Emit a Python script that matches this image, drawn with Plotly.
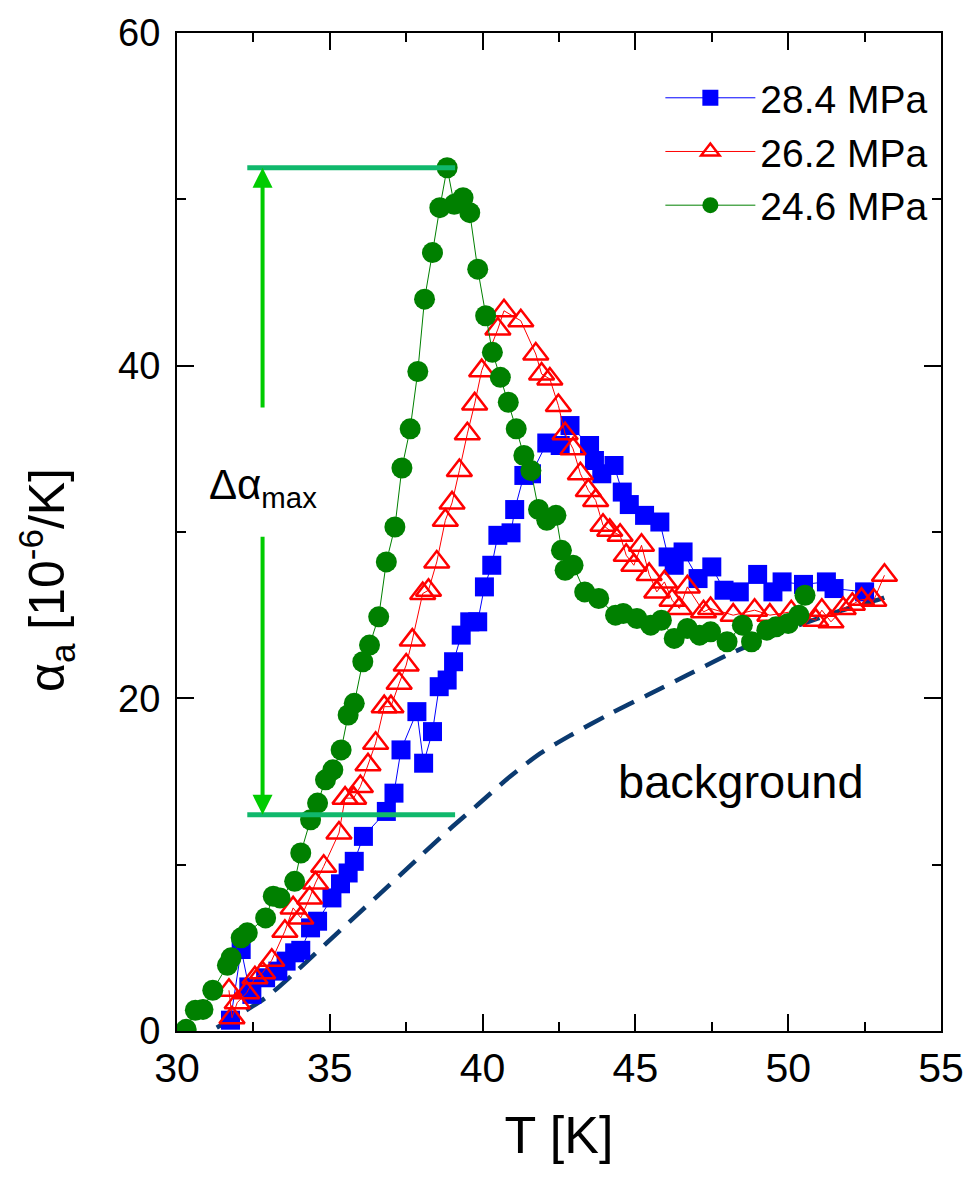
import plotly.graph_objects as go

# ---- data ----
T_284 = [31.75, 32.1, 32.35, 32.45, 32.9, 33.3, 33.57, 33.85, 34.05, 34.37, 34.6, 35.07, 35.35, 35.6,
         35.8, 36.1, 36.85, 37.1, 37.33, 37.85, 38.07, 38.36, 38.58, 38.84, 39.05, 39.3, 39.58, 39.84,
         40.06, 40.3, 40.5, 40.93, 41.05, 41.35, 41.6, 42.1, 42.54, 42.86, 43.5, 43.66, 43.9, 44.3,
         44.57, 44.8, 45.3, 45.8, 46.07, 46.27, 46.56, 47.05, 47.5, 47.9, 48.4, 49.0, 49.5, 49.8,
         50.5, 51.25, 51.5, 52.5]
A_284 = [0.65, 4.9, 2.65, 2.2, 3.2, 3.6, 4.2, 4.7, 4.85, 6.2, 6.6, 8.0, 8.85, 9.5,
         10.2, 11.7, 13.2, 14.3, 16.9, 19.2, 16.1, 18.0, 20.7, 21.1, 22.2, 23.8, 24.6, 24.6,
         26.7, 28.0, 29.8, 29.95, 31.35, 33.4, 33.5, 35.35, 35.2, 36.4, 35.2, 34.3, 33.5, 34.0,
         32.4, 31.65, 31.0, 30.6, 28.5, 28.0, 28.8, 27.2, 27.9, 26.5, 26.4, 27.45, 26.4, 27.0,
         26.85, 27.0, 26.6, 26.4]

T_262 = [31.7, 31.8, 31.97, 32.28, 32.55, 32.8, 33.1, 33.53, 33.8, 34.05, 34.34, 34.53, 34.8, 35.3,
         35.5, 35.78, 36.0, 36.25, 36.5, 36.78, 37.0, 37.27, 37.5, 37.7, 38.04, 38.23, 38.5, 38.78,
         39.0, 39.24, 39.5, 39.74, 39.97, 40.5, 40.7, 41.25, 41.74, 41.93, 42.2, 42.48, 42.7, 42.96,
         43.2, 43.46, 43.7, 43.94, 44.16, 44.5, 44.7, 44.95, 45.2, 45.45, 45.7, 45.95, 46.2, 46.44,
         46.7, 47.23, 47.46, 48.2, 48.9, 49.4, 50.1, 50.9, 51.1, 51.4, 51.8, 52.1, 52.4, 52.8, 53.15]
A_262 = [2.45, 0.8, 1.7, 2.3, 3.2, 3.5, 4.25, 6.0, 7.4, 6.8, 8.0, 8.9, 9.9, 11.9,
         14.0, 14.0, 14.7, 16.0, 17.3, 19.5, 19.5, 20.9, 22.0, 23.5, 26.3, 26.5, 28.2, 30.7,
         31.75, 33.7, 35.9, 37.7, 39.7, 42.2, 43.3, 42.7, 40.7, 39.5, 39.2, 37.6, 35.9, 35.0,
         33.5, 32.5, 31.9, 30.4, 30.1, 29.8, 28.6, 28.0, 29.2, 27.45, 26.4, 27.0, 25.9, 25.4,
         26.7, 25.2, 25.4, 25.0, 25.3, 25.0, 25.2, 24.7, 25.3, 24.6, 25.4, 25.65, 25.95, 25.9, 27.4]

T_246 = [30.3, 30.6, 30.85, 31.17, 31.65, 31.77, 32.1, 32.3, 32.9, 33.15, 33.37, 33.85, 34.05, 34.37,
         34.6, 34.86, 35.1, 35.37, 35.6, 35.8, 36.08, 36.3, 36.6, 36.85, 37.13, 37.36, 37.63, 37.88,
         38.1, 38.36, 38.6, 38.84, 39.07, 39.36, 39.58, 39.84, 40.1, 40.32, 40.58, 40.84, 41.1, 41.35,
         41.58, 41.83, 42.1, 42.4, 42.58, 42.7, 42.96, 43.34, 43.8, 44.35, 44.6, 45.05, 45.5, 45.85,
         46.27, 46.7, 47.1, 47.46, 48.0, 48.5, 48.8, 49.3, 49.6, 50.0, 50.35, 50.55]
A_246 = [0.1, 1.25, 1.3, 2.45, 3.95, 4.4, 5.6, 5.9, 6.8, 8.1, 8.0, 9.0, 10.7, 12.7,
         13.7, 15.1, 15.7, 16.9, 19.0, 19.7, 22.2, 23.2, 24.9, 28.2, 30.3, 33.85, 36.2, 39.65,
         44.0, 46.8, 49.5, 51.9, 49.7, 50.1, 49.2, 45.8, 43.0, 40.8, 39.3, 37.8, 36.2, 34.6,
         33.7, 31.35, 30.7, 31.0, 28.9, 27.7, 28.0, 26.4, 26.0, 25.0, 25.1, 24.8, 24.4, 24.7,
         23.6, 24.2, 23.8, 24.0, 23.4, 24.4, 23.4, 24.1, 24.3, 24.5, 25.0, 26.2]

T_bg = [31.3, 32.9, 33.85, 34.9, 35.9, 36.85, 37.9, 38.9, 39.84, 40.9, 41.9, 42.9, 44.1, 45.4,
        46.7, 48.0, 49.0, 50.35, 51.6, 52.9, 53.2]
A_bg = [0.2, 2.0, 3.5, 5.3, 7.0, 8.6, 10.4, 12.1, 13.6, 15.3, 16.7, 17.8, 19.0, 20.2,
        21.4, 22.6, 23.4, 24.4, 25.2, 25.9, 26.1]

x_ticks = [30, 35, 40, 45, 50, 55]
y_ticks = [0, 20, 40, 60]

# Delta alpha_max construction
delta_top = max(A_246)
delta_bottom = 13.0
delta_x = 32.8
delta_line_x = [32.3, 39.1]
delta_gap = [29.8, 37.4]

FONT = "Liberation Sans, Arial, sans-serif"

fig = go.Figure()

fig.add_trace(go.Scatter(
    x=T_bg, y=A_bg, mode="lines", line=dict(color="#0b3a70", width=4.5, dash="22px,12px",
                                            shape="spline", smoothing=0.8),
    showlegend=False, hoverinfo="skip"))

fig.add_trace(go.Scatter(
    x=T_284, y=A_284, mode="lines+markers", name="28.4 MPa",
    line=dict(color="#0000ff", width=1),
    marker=dict(symbol="square", size=19, color="#0000ff", line=dict(width=0))))

fig.add_trace(go.Scatter(
    x=T_262, y=A_262, mode="lines+markers", name="26.2 MPa",
    line=dict(color="#ff0000", width=1),
    marker=dict(symbol="triangle-up-open", size=22, color="#ff0000", line=dict(width=2.5, color="#ff0000"))))

fig.add_trace(go.Scatter(
    x=T_246, y=A_246, mode="lines+markers", name="24.6 MPa",
    line=dict(color="#008000", width=1),
    marker=dict(symbol="circle", size=21, color="#008000", line=dict(width=0))))

# horizontal reference lines
for yv in (delta_top, delta_bottom):
    fig.add_shape(type="line", xref="x", yref="y", x0=delta_line_x[0], x1=delta_line_x[1], y0=yv, y1=yv,
                  line=dict(color="#10b86c", width=5))

# vertical arrows
fig.add_annotation(x=delta_x, y=delta_top, ax=delta_x, ay=delta_gap[1], xref="x", yref="y",
                   axref="x", ayref="y", text="", showarrow=True, arrowhead=2, arrowsize=1.0,
                   arrowwidth=4, arrowcolor="#00cc00")
fig.add_annotation(x=delta_x, y=delta_bottom, ax=delta_x, ay=delta_gap[0], xref="x", yref="y",
                   axref="x", ayref="y", text="", showarrow=True, arrowhead=2, arrowsize=1.0,
                   arrowwidth=4, arrowcolor="#00cc00")

fig.add_annotation(x=delta_x, y=32.7, xref="x", yref="y",
                   text="Δα<sub>max</sub>", showarrow=False, font=dict(family=FONT, size=42, color="black"))
fig.add_annotation(x=48.45, y=15.0, xref="x", yref="y", text="background", showarrow=False,
                   font=dict(family=FONT, size=47, color="black"))

# y-axis title placed as rotated annotation (reference is offset below centre)
fig.add_annotation(x=-0.17, y=0.452, xref="paper", yref="paper", xanchor="center", yanchor="middle",
                   text="α<sub>a</sub> [10<sup>-6</sup>/K]", textangle=-90, showarrow=False,
                   font=dict(family=FONT, size=50, color="black"))

axis_common = dict(showline=True, linecolor="black", linewidth=2, mirror="ticks", ticks="inside",
                   tickwidth=2, ticklen=17, tickcolor="black", showgrid=False, zeroline=False)

fig.update_xaxes(range=[30, 55], tickvals=x_ticks,
                 tickfont=dict(family=FONT, size=41, color="black"),
                 title=dict(text="T [K]", font=dict(family=FONT, size=52, color="black"), standoff=26),
                 minor=dict(ticks="inside", dtick=2.5, tick0=30, ticklen=9, tickwidth=2, tickcolor="black"),
                 **axis_common)
fig.update_yaxes(range=[0, 60], tickvals=y_ticks, ticklabelstandoff=7,
                 tickfont=dict(family=FONT, size=38, color="black"),
                 minor=dict(ticks="inside", dtick=10, tick0=0, ticklen=9, tickwidth=2, tickcolor="black"),
                 **axis_common)

fig.update_layout(
    width=976, height=1178,
    margin=dict(l=177, r=25, t=28, b=147),
    paper_bgcolor="white", plot_bgcolor="white",
    font=dict(family=FONT, color="black"),
    legend=dict(x=0.99, y=0.967, xanchor="right", yanchor="top", bgcolor="rgba(0,0,0,0)",
                font=dict(family=FONT, size=39, color="black"), itemwidth=90, tracegroupgap=0),
)

fig.write_html("out.html")
